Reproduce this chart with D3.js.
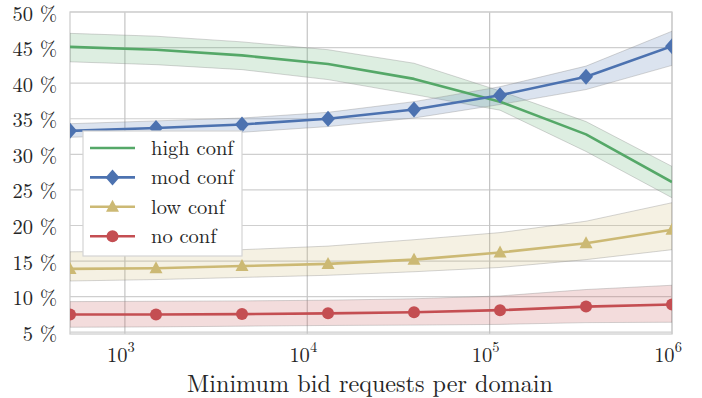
<!DOCTYPE html>
<html>
<head>
<meta charset="utf-8">
<script src="https://cdn.jsdelivr.net/npm/d3@7"></script>
<style>
  html, body { margin: 0; padding: 0; background: #fff; }
  svg { display: block; }
</style>
</head>
<body>
<svg id="chart" width="702" height="398"></svg>
<script>
// Minimum number of bid requests per domain (log-spaced thresholds)
const thresholds = [500, 1481, 4387, 12996, 38497, 114036, 337794, 1000000];

// Share of domains (%) per confidence level, with band bounds
const highConf      = [45.1, 44.7, 43.9, 42.7, 40.6, 37.4, 32.8, 26.1];
const highConfLow   = [43.0, 42.6, 41.9, 40.5, 38.4, 36.2, 30.4, 23.9];
const highConfHigh  = [47.0, 46.6, 45.8, 44.7, 42.8, 38.9, 34.6, 28.3];

const modConf       = [33.3, 33.7, 34.2, 35.0, 36.3, 38.3, 40.9, 45.2];
const modConfLow    = [32.4, 32.7, 33.1, 33.9, 35.1, 37.0, 39.1, 42.5];
const modConfHigh   = [34.3, 34.7, 35.1, 35.9, 37.4, 39.5, 42.4, 47.3];

const lowConf       = [13.9, 14.0, 14.3, 14.6, 15.2, 16.2, 17.5, 19.4];
const lowConfLow    = [12.2, 12.4, 12.7, 13.0, 13.5, 14.1, 15.2, 16.6];
const lowConfHigh   = [16.3, 16.4, 16.6, 17.1, 18.0, 19.0, 20.6, 23.2];

const noConf        = [7.5, 7.5, 7.55, 7.65, 7.8, 8.1, 8.6, 8.9];
const noConfLow     = [5.7, 5.75, 5.85, 5.95, 6.0, 6.1, 6.35, 6.4];
const noConfHigh    = [9.3, 9.35, 9.4, 9.5, 9.7, 10.1, 11.0, 11.6];

const yTicks = [5, 10, 15, 20, 25, 30, 35, 40, 45, 50];
const xTicks = [1e3, 1e4, 1e5, 1e6];

const series = [
  { name: "high conf", color: "#55A868", marker: null,       values: highConf, lo: highConfLow, hi: highConfHigh },
  { name: "mod conf",  color: "#4C72B0", marker: "diamond",  values: modConf,  lo: modConfLow,  hi: modConfHigh },
  { name: "low conf",  color: "#CCB974", marker: "triangle", values: lowConf,  lo: lowConfLow,  hi: lowConfHigh },
  { name: "no conf",   color: "#C44E52", marker: "circle",   values: noConf,   lo: noConfLow,   hi: noConfHigh }
];

const FONT = "'Latin Modern Roman', 'Liberation Serif', serif";
const INK = "#262626";

const svg = d3.select("#chart")
  .attr("font-family", FONT)
  .style("font-family", FONT);
const plot = { left: 70, right: 672, top: 12, bottom: 334 };

const x = d3.scaleLog().domain([500, 1e6]).range([plot.left, plot.right]);
const y = d3.scaleLinear().domain([4.75, 50]).range([plot.bottom, plot.top]);

svg.append("defs").append("clipPath").attr("id", "plot-clip")
  .append("rect")
  .attr("x", plot.left).attr("y", plot.top)
  .attr("width", plot.right - plot.left).attr("height", plot.bottom - plot.top);

// Grid lines
const grid = svg.append("g");
grid.selectAll("line.h").data(yTicks).join("line")
  .attr("x1", plot.left).attr("x2", plot.right)
  .attr("y1", d => y(d)).attr("y2", d => y(d))
  .attr("stroke", "#cfcfcf").attr("stroke-width", 1.2);
grid.selectAll("line.v").data(xTicks).join("line")
  .attr("x1", d => x(d)).attr("x2", d => x(d))
  .attr("y1", plot.top).attr("y2", plot.bottom)
  .attr("stroke", "#c4c4c4").attr("stroke-width", 1.2);

// Frame
svg.append("rect")
  .attr("x", plot.left).attr("y", plot.top)
  .attr("width", plot.right - plot.left).attr("height", plot.bottom - plot.top)
  .attr("fill", "none").attr("stroke", "#cfcfcf").attr("stroke-width", 1.3);

const body = svg.append("g").attr("clip-path", "url(#plot-clip)");

// Confidence bands
const area = d3.area()
  .x((d, i) => x(thresholds[i]))
  .y0(d => y(d[0])).y1(d => y(d[1]));
series.forEach(s => {
  const pts = s.lo.map((v, i) => [v, s.hi[i]]);
  body.append("path").datum(pts)
    .attr("d", area)
    .attr("fill", s.color).attr("fill-opacity", 0.2)
    .attr("stroke", "#888").attr("stroke-opacity", 0.35).attr("stroke-width", 1);
});

const line = d3.line().x((d, i) => x(thresholds[i])).y(d => y(d));

const symbols = {
  diamond: d3.symbol().type({ draw(ctx) { ctx.moveTo(0, -8); ctx.lineTo(7, 0); ctx.lineTo(0, 8); ctx.lineTo(-7, 0); ctx.closePath(); } })(),
  triangle: d3.symbol().type({ draw(ctx) { ctx.moveTo(0, -7); ctx.lineTo(6.5, 5); ctx.lineTo(-6.5, 5); ctx.closePath(); } })(),
  circle: d3.symbol().type(d3.symbolCircle).size(Math.PI * 6 * 6)()
};

// Series lines and markers
series.forEach(s => {
  body.append("path").datum(s.values)
    .attr("d", line)
    .attr("fill", "none").attr("stroke", s.color).attr("stroke-width", 2.6)
    .attr("stroke-linejoin", "round");
  if (s.marker) {
    body.selectAll(null).data(s.values).join("path")
      .attr("transform", (d, i) => `translate(${x(thresholds[i])},${y(d)})`)
      .attr("d", symbols[s.marker])
      .attr("fill", s.color);
  }
});

// Y axis labels
svg.append("g").selectAll("text").data(yTicks).join("text")
  .attr("x", 57).attr("y", d => y(d) + 8.5)
  .attr("text-anchor", "end").attr("font-size", 20.5).attr("fill", INK)
  .text(d => `${d} %`);

// X axis labels (powers of ten)
const xl = svg.append("g").selectAll("text").data(xTicks).join("text")
  .attr("x", d => x(d) - 4).attr("y", 361.5)
  .attr("text-anchor", "middle").attr("font-size", 20.5).attr("fill", INK);
xl.append("tspan").text("10");
xl.append("tspan").attr("dy", -10).attr("font-size", 14.5).text(d => Math.round(Math.log10(d)));

svg.append("text")
  .attr("x", 370).attr("y", 392)
  .attr("text-anchor", "middle").attr("font-size", 24.2).attr("fill", INK)
  .text("Minimum bid requests per domain");

// Legend
const legend = svg.append("g").attr("transform", "translate(83,131)");
legend.append("rect")
  .attr("width", 159).attr("height", 125)
  .attr("fill", "#fff").attr("stroke", "#d4d4d4").attr("stroke-width", 1.2);
series.forEach((s, i) => {
  const g = legend.append("g").attr("transform", `translate(0,${17 + i * 29.4})`);
  g.append("line").attr("x1", 7).attr("x2", 52)
    .attr("stroke", s.color).attr("stroke-width", 2.6);
  if (s.marker) {
    g.append("path").attr("transform", "translate(29.5,0)")
      .attr("d", symbols[s.marker]).attr("fill", s.color);
  }
  g.append("text").attr("x", 68).attr("y", 7).attr("font-size", 20.5).attr("fill", INK).text(s.name);
});
</script>
</body>
</html>
